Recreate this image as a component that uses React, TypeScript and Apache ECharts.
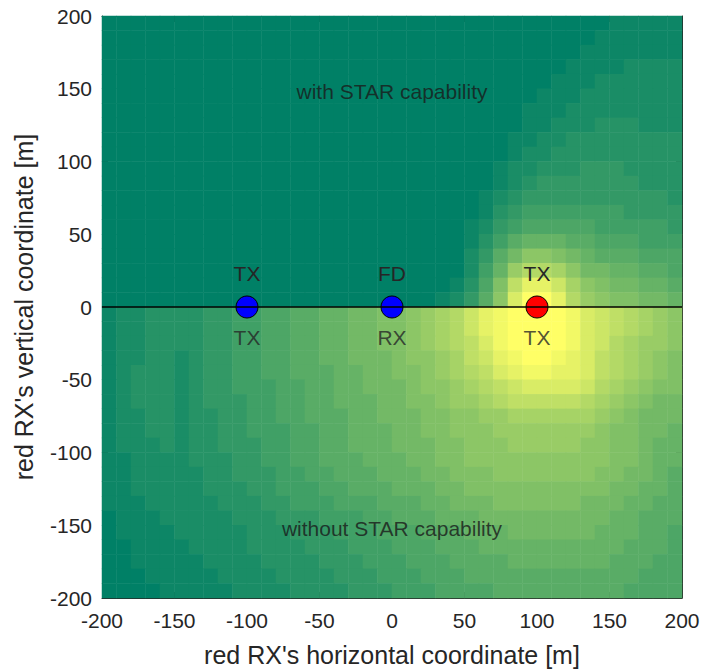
import React, { useEffect, useRef } from "react";
import * as echarts from "echarts";

// Cell centres of the map (metres)
const xCenters = [
  -195, -185, -175, -165, -155, -145, -135, -125, -115, -105,
  -95, -85, -75, -65, -55, -45, -35, -25, -15, -5,
  5, 15, 25, 35, 45, 55, 65, 75, 85, 95,
  105, 115, 125, 135, 145, 155, 165, 175, 185, 195,
];
const yCenters = [
  -195, -185, -175, -165, -155, -145, -135, -125, -115, -105,
  -95, -85, -75, -65, -55, -45, -35, -25, -15, -5,
  5, 15, 25, 35, 45, 55, 65, 75, 85, 95,
  105, 115, 125, 135, 145, 155, 165, 175, 185, 195,
];

// Map levels (0..20, base-36 digits: 0-9, a=10 ... k=20), rows from y=195 down to y=-195
const heatRows = [
  "00000000000000000000" + "00000000000000011111", // 195
  "00000000000000000000" + "00000000000000111111", // 185
  "00000000000000000000" + "00000000000001111111", // 175
  "00000000000000000000" + "00000000000011112222", // 165
  "00000000000000000000" + "00000000000111222222", // 155
  "00000000000000000000" + "00000000001112222222", // 145
  "00000000000000000000" + "00000000011122222222", // 135
  "00000000000000000000" + "00000000011222333222", // 125
  "00000000000000000000" + "00000000112233333333", // 115
  "00000000000000000000" + "00000000122333333333", // 105
  "00000000000000000000" + "00000001223334443333", // 95
  "00000000000000000000" + "00000001234444444333", // 85
  "00000000000000000000" + "00000012344444444443", // 75
  "00000000000000000000" + "00000013455555554444", // 65
  "00000000000000000000" + "00000124566666555554", // 55
  "00000000000000000000" + "00000135788877666555", // 45
  "00000000000000000000" + "000002479bba98777666", // 35
  "00000000000000000000" + "00000258ceedb9988776", // 25
  "00000000000000000000" + "0000136afiigdba99887", // 15
  "00000000000000000000" + "0001247bhkkiecbaa998", // 5
  "1223333445" + "566778899a" + "abcdegijkk" + "kkjhgfedcb", // -5
  "1223333445" + "566778899a" + "abcdegijkk" + "kkjhgfedcb", // -15
  "1223333445" + "566778899a" + "abcdefhjkk" + "kkjhgedccb", // -25
  "1223323445" + "5667788999" + "abbcdfgijk" + "kjihfedcba", // -35
  "1233323445" + "5667778899" + "aabcdefhij" + "jiihfedcba", // -45
  "1233323445" + "5566778899" + "9abbcdefgh" + "hhhgedcbaa", // -55
  "1233323444" + "5566778889" + "9aabccdeff" + "fffedcba99", // -65
  "1223323344" + "5566777889" + "99aabbccdd" + "ddddcba999", // -75
  "1223323344" + "5556677888" + "99aabbbccc" + "ccccbaa998", // -85
  "1222323344" + "4556677888" + "999aabbbcc" + "cccbbaa988", // -95
  "1122223334" + "4556677788" + "899aabbbbb" + "bbbbbaa988", // -105
  "1122222334" + "4455667778" + "8899aaabbb" + "bbbbaa9987", // -115
  "1122222333" + "4455566777" + "88899aaaaa" + "aaaaa99887", // -125
  "1112222233" + "3445556667" + "7788999aaa" + "aaa9998877", // -135
  "0111222223" + "3344455566" + "7778889999" + "9999988777", // -145
  "0111122222" + "3334445556" + "6677788899" + "9999888776", // -155
  "0011112222" + "3333444555" + "6667778888" + "8888887776", // -165
  "0011111222" + "2333344455" + "5666777788" + "8888877766", // -175
  "0001111122" + "2233334445" + "5566677777" + "7777777666", // -185
  "0000111112" + "2223333444" + "5556666777" + "7777776666", // -195
];

const pointX = [-100, 0, 100];
const pointY = [0, 0, 0];
const pointColors = ["#0000ff", "#0000ff", "#ff0000"];
const labelsAbove = ["TX", "FD", "TX"];
const labelsBelow = ["TX", "RX", "TX"];

const noteTexts = ["with STAR capability", "without STAR capability"];
const noteX = [0, 0];
const noteY = [148, -152];

const baselineX = [-200, 200];
const baselineY = [0, 0];

const axisMin = -200;
const axisMax = 200;
const axisStep = 50;

const FONT = "'Liberation Sans', Arial, Helvetica, sans-serif";
const TXT = "#262626";

export default function App() {
  const ref = useRef<HTMLDivElement | null>(null);

  useEffect(() => {
    if (!ref.current) return;
    const chart = echarts.init(ref.current, undefined, { renderer: "svg" });

    const heatData: number[][] = [];
    heatRows.forEach((row, j) => {
      const yi = heatRows.length - 1 - j;
      for (let i = 0; i < row.length; i++) {
        heatData.push([i, yi, parseInt(row[i], 36)]);
      }
    });

    const valAxis = {
      type: "value",
      min: axisMin,
      max: axisMax,
      interval: axisStep,
      splitLine: { show: false },
      axisLine: { show: true, onZero: false, lineStyle: { color: TXT, width: 1 } },
      axisTick: { show: true, inside: true, length: 6, lineStyle: { color: TXT, width: 1 } },
    };

    const option: any = {
      animation: false,
      backgroundColor: "#ffffff",
      grid: { left: 102, top: 16, width: 580, height: 582, containLabel: false },
      visualMap: {
        type: "continuous",
        min: 0,
        max: 20,
        show: false,
        seriesIndex: 0,
        inRange: { color: ["#008066", "#ffff66"] },
      },
      xAxis: [
        { type: "category", data: xCenters.map(String), show: false, position: "bottom" },
        {
          ...valAxis,
          position: "bottom",
          axisLabel: { show: true, fontSize: 21, color: TXT, fontFamily: FONT, margin: 12 },
          name: "red RX's horizontal coordinate [m]",
          nameLocation: "middle",
          nameGap: 44,
          nameTextStyle: { fontSize: 25, color: TXT, fontFamily: FONT },
        },
        { ...valAxis, position: "top", axisLabel: { show: false } },
      ],
      yAxis: [
        { type: "category", data: yCenters.map(String), show: false, position: "left" },
        {
          ...valAxis,
          position: "left",
          axisLabel: { show: true, fontSize: 21, color: TXT, fontFamily: FONT, margin: 10 },
          name: "red RX's vertical coordinate [m]",
          nameLocation: "middle",
          nameGap: 66,
          nameTextStyle: { fontSize: 25, color: TXT, fontFamily: FONT },
        },
        { ...valAxis, position: "right", axisLabel: { show: false } },
      ],
      series: [
        {
          type: "heatmap",
          xAxisIndex: 0,
          yAxisIndex: 0,
          data: heatData,
          itemStyle: { borderWidth: 0 },
          emphasis: { disabled: true },
        },
        {
          type: "line",
          xAxisIndex: 1,
          yAxisIndex: 1,
          data: baselineX.map((x, i) => [x, baselineY[i]]),
          symbol: "none",
          lineStyle: { color: "#000000", width: 1.3 },
          silent: true,
        },
        {
          type: "scatter",
          xAxisIndex: 1,
          yAxisIndex: 1,
          symbol: "circle",
          symbolSize: 22,
          data: pointX.map((x, i) => ({
            value: [x, pointY[i]],
            itemStyle: { color: pointColors[i], borderColor: "#000000", borderWidth: 1, opacity: 1 },
            label: { formatter: labelsAbove[i] },
          })),
          label: {
            show: true,
            position: "top",
            distance: 12,
            fontSize: 21,
            color: TXT,
            fontFamily: FONT,
          },
        },
        {
          type: "scatter",
          xAxisIndex: 1,
          yAxisIndex: 1,
          symbol: "circle",
          symbolSize: 22,
          itemStyle: { color: "rgba(0,0,0,0)", borderWidth: 0 },
          data: pointX.map((x, i) => ({
            value: [x, pointY[i]],
            label: { formatter: labelsBelow[i] },
          })),
          label: {
            show: true,
            position: "bottom",
            distance: 9,
            fontSize: 21,
            color: TXT,
            fontFamily: FONT,
          },
          silent: true,
        },
        {
          type: "scatter",
          xAxisIndex: 1,
          yAxisIndex: 1,
          symbol: "circle",
          symbolSize: 1,
          itemStyle: { color: "rgba(0,0,0,0)", borderWidth: 0 },
          data: noteX.map((x, i) => ({
            value: [x, noteY[i]],
            label: { formatter: noteTexts[i] },
          })),
          label: {
            show: true,
            position: "inside",
            fontSize: 21,
            color: "#1a1a1a",
            fontFamily: FONT,
          },
          silent: true,
        },
      ],
    };

    chart.setOption(option);
    return () => chart.dispose();
  }, []);

  return (
    <div
      ref={ref}
      style={{ position: "absolute", left: 0, top: 0, width: 703, height: 672, background: "#fff" }}
    />
  );
}
